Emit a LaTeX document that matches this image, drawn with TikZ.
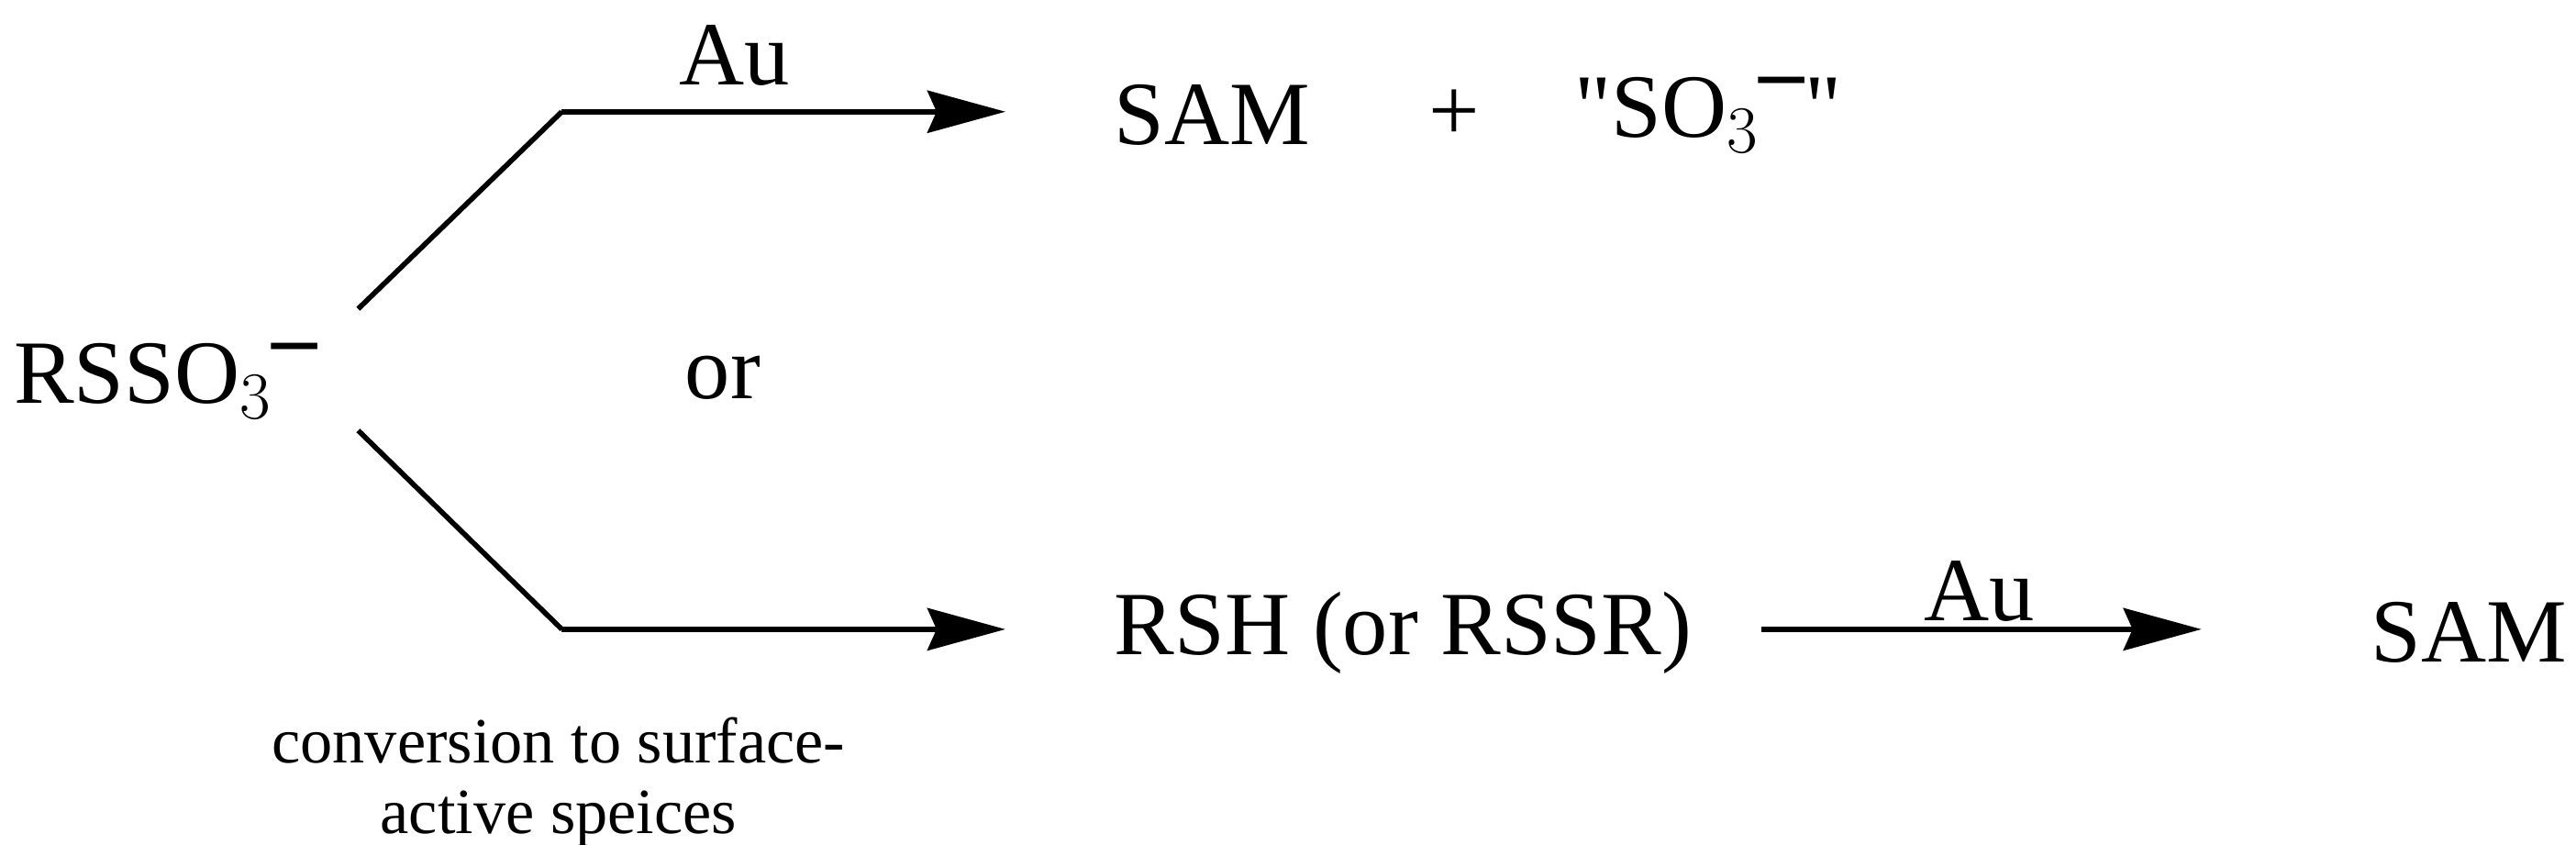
\documentclass[tikz,border=0pt]{standalone}
\usepackage{fontspec}
\setmainfont{Liberation Serif}
\usetikzlibrary{arrows.meta}
\begin{document}
\begin{tikzpicture}[x=0.0179cm,y=-0.0179cm,
  big/.style={font=\fontsize{28}{33}\selectfont,inner sep=0pt},
  small/.style={font=\fontsize{20}{22}\selectfont,inner sep=0pt,align=center},
  rxn/.style={line width=1.6pt,-{Stealth[length=0.85cm,width=0.46cm,inset=0.1cm]}},
  seg/.style={line width=1.6pt}]
\useasboundingbox (0,0) rectangle (1568,514);
\node[big,anchor=west] (r) at (8,232) {RSSO$_3$\raisebox{0.4em}{\textbf{–}}};
\coordinate (u1) at (218,188);
\coordinate (u2) at (342,68);
\coordinate (u3) at (612,68);
\coordinate (l1) at (218,262);
\coordinate (l2) at (342,383);
\coordinate (l3) at (612,383);
\draw[seg] (u1) -- (u2);
\draw[rxn] (u2) -- (u3);
\draw[seg] (l1) -- (l2);
\draw[rxn] (l2) -- (l3);
\node[big] (au1) at (447,34) {Au};
\node[big] (or) at (440,230) {or};
\node[big,anchor=west] (sam1) at (678,70) {SAM};
\node[big] (plus) at (885,70) {+};
\node[big,anchor=west] (so3) at (958,70) {\textquotedbl SO$_3$\raisebox{0.4em}{\textbf{–}}\textquotedbl};
\node[big,anchor=west] (rsh) at (678,385) {RSH (or RSSR)};
\coordinate (m1) at (1072,383);
\coordinate (m2) at (1340,383);
\draw[rxn] (m1) -- (m2);
\node[big] (au2) at (1205,360) {Au};
\node[big,anchor=west] (sam2) at (1443,385) {SAM};
\node[small] (conv) at (340,476) {conversion to surface-\\active speices};
\end{tikzpicture}
\end{document}
